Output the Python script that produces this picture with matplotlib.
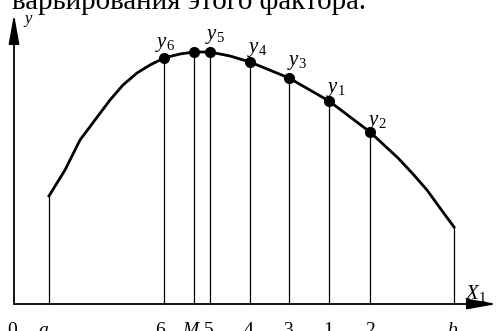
import numpy as np
import matplotlib
matplotlib.use('Agg')
import matplotlib.pyplot as plt

plt.rcParams['font.family'] = ['Liberation Serif', 'DejaVu Serif']
plt.rcParams['mathtext.fontset'] = 'custom'
plt.rcParams['mathtext.rm'] = 'Liberation Serif'
plt.rcParams['mathtext.it'] = 'Liberation Serif:italic'

# curve (x along X1, y = response)
curve_x = [35, 51, 66, 81, 96, 109, 123, 136, 150, 166, 180, 196, 216, 236,
           275, 315, 356, 384, 399, 413, 426, 440]
curve_y = [108, 134, 164, 184, 204, 219, 231, 239, 246, 250, 252, 252, 248, 242,
           226, 203, 172, 146, 130, 114, 96, 77]

# positions marked on the X1 axis
tick_x = [0, 35, 150, 180, 196, 236, 275, 315, 356, 440]
tick_labels = ['0', '$a$', '6', '$M$', '5', '4', '3', '1', '2', '$b$']
tick_dx = [-2, -5, -4, -2, -1, -1, -1, -1, 0, -1]

# experiment points with labels
pt_x = [150, 180, 196, 236, 275, 315, 356]
pt_labels = ['$y_6$', '', '$y_5$', '$y_4$', '$y_3$', '$y_1$', '$y_2$']
pt_off = [(-9, 23), (0, 0), (-5, 25), (-3, 22), (-2, 25), (-3, 21), (-3, 19)]

caption = 'варьирования этого фактора.'

fig = plt.figure(figsize=(4.97, 3.31), dpi=100)
ax = fig.add_axes([0, 0, 1, 1])
ax.set_xlim(-14, 483)
ax.set_ylim(-27, 304)
ax.axis('off')

# axes with arrows
arrow = dict(arrowstyle='-|>,head_length=1.8,head_width=0.32', lw=1.3,
             color='black', mutation_scale=10, shrinkA=0, shrinkB=0)
ax.annotate('', xy=(483, 0), xytext=(0, 0), arrowprops=arrow)
ax.annotate('', xy=(0, 290), xytext=(0, 0), arrowprops=arrow)

ax.plot(curve_x, curve_y, color='black', lw=2.0, solid_joinstyle='round')

# vertical lines from the axis up to the curve
line_x = tick_x[1:]
line_h = np.interp(line_x, curve_x, curve_y)
ax.vlines(line_x, 0, line_h, color='black', lw=0.9)

pt_y = np.interp(pt_x, curve_x, curve_y)
ax.plot(pt_x, pt_y, 'o', color='black', markersize=7)
for x, y, lab, (dx, dy) in zip(pt_x, pt_y, pt_labels, pt_off):
    if lab:
        ax.annotate(lab, (x, y), xytext=(dx, dy), textcoords='offset pixels',
                    ha='left', va='top', fontsize=15)

for x, lab, dx in zip(tick_x, tick_labels, tick_dx):
    ax.text(x + dx, -18, lab, ha='center', va='top', fontsize=14)

ax.text(9, 291, '$y$', ha='left', va='top', fontsize=12)
ax.text(451, 21, '$X_1$', ha='left', va='top', fontsize=15)

# caption from the page above, cut off at the top
t = ax.text(-2, 295, caption, ha='left', va='baseline', fontsize=20)
fig.canvas.draw()
w = t.get_window_extent().width
t.set_fontsize(20 * 356 / w)

fig.savefig('out.png', dpi=100)
